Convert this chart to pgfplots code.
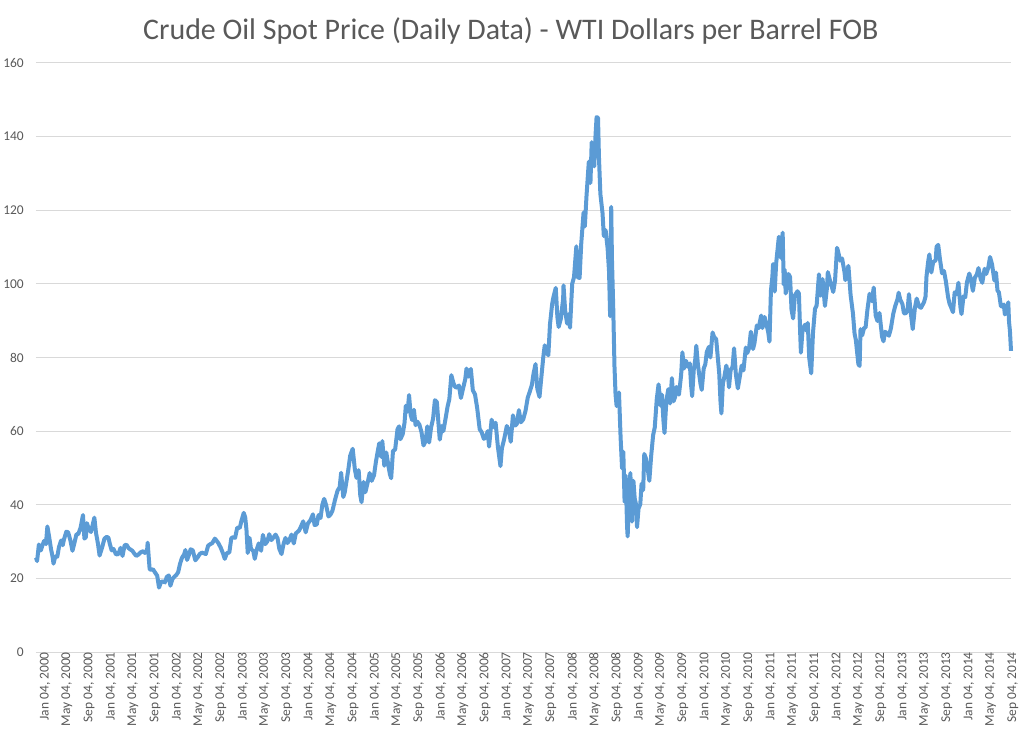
\documentclass[border=0pt]{standalone}
\usepackage{fontspec}
\setmainfont{Carlito}
\usepackage{pgfplots}
\pgfplotsset{compat=1.18}
\usepgfplotslibrary{dateplot}
\definecolor{linec}{HTML}{5B9BD5}
\definecolor{gridc}{HTML}{D9D9D9}
\definecolor{txtc}{HTML}{595959}
\pgfplotstableread{
date price
2000-01-04 25.6
2000-01-10 24.7
2000-01-20 29.2
2000-01-31 27.6
2000-02-08 28.9
2000-02-18 30.2
2000-02-28 29.3
2000-03-07 34.1
2000-03-16 31.5
2000-03-27 28.0
2000-04-05 25.8
2000-04-10 24.0
2000-04-20 26.0
2000-05-01 25.9
2000-05-10 28.5
2000-05-22 30.3
2000-05-31 29.0
2000-06-07 30.6
2000-06-20 32.7
2000-06-30 32.5
2000-07-12 30.4
2000-07-24 27.5
2000-08-03 29.5
2000-08-15 32.0
2000-08-25 32.0
2000-09-07 33.8
2000-09-20 37.2
2000-09-28 30.8
2000-10-06 31.2
2000-10-12 35.0
2000-10-24 33.2
2000-11-03 32.6
2000-11-14 34.8
2000-11-22 36.5
2000-12-01 32.4
2000-12-12 29.4
2000-12-21 26.2
2001-01-04 28.4
2001-01-17 30.8
2001-01-30 31.3
2001-02-08 31.0
2001-02-16 29.3
2001-02-26 27.6
2001-03-08 28.0
2001-03-22 26.5
2001-04-04 26.6
2001-04-16 28.3
2001-04-27 26.1
2001-05-08 28.9
2001-05-18 29.2
2001-05-31 28.2
2001-06-08 27.9
2001-06-20 27.5
2001-07-02 26.7
2001-07-12 26.1
2001-07-25 26.5
2001-08-06 27.1
2001-08-20 27.4
2001-08-29 26.9
2001-09-10 27.6
2001-09-13 29.7
2001-09-24 22.5
2001-10-03 22.3
2001-10-12 22.5
2001-10-24 21.6
2001-11-05 20.7
2001-11-15 17.5
2001-11-26 19.0
2001-12-05 19.2
2001-12-18 18.9
2001-12-28 20.4
2002-01-08 20.8
2002-01-17 18.0
2002-01-28 19.8
2002-02-07 20.4
2002-02-20 21.0
2002-03-01 21.7
2002-03-11 23.9
2002-03-22 25.6
2002-04-03 26.5
2002-04-10 27.7
2002-04-19 25.0
2002-04-29 26.3
2002-05-09 27.9
2002-05-21 27.6
2002-06-04 24.9
2002-06-18 25.8
2002-06-28 26.6
2002-07-10 27.0
2002-07-22 26.8
2002-08-01 26.6
2002-08-14 28.9
2002-08-26 29.3
2002-09-06 29.6
2002-09-20 30.8
2002-09-27 30.4
2002-10-09 29.6
2002-10-22 28.4
2002-11-04 26.8
2002-11-14 25.3
2002-11-26 26.9
2002-12-09 27.0
2002-12-20 30.9
2002-12-30 31.2
2003-01-10 31.0
2003-01-22 33.8
2003-02-05 33.7
2003-02-14 35.6
2003-02-27 37.8
2003-03-07 36.6
2003-03-14 33.2
2003-03-21 26.9
2003-03-31 31.0
2003-04-08 28.0
2003-04-21 27.4
2003-04-29 25.3
2003-05-09 27.7
2003-05-21 29.5
2003-06-03 27.5
2003-06-13 31.8
2003-06-26 29.3
2003-07-08 30.1
2003-07-18 32.0
2003-07-30 30.4
2003-08-12 31.2
2003-08-22 31.9
2003-09-02 30.9
2003-09-12 28.0
2003-09-24 26.6
2003-10-06 29.5
2003-10-16 31.0
2003-10-27 29.6
2003-11-06 30.3
2003-11-18 31.9
2003-12-01 29.5
2003-12-12 32.2
2003-12-30 33.0
2004-01-09 34.0
2004-01-22 35.5
2004-02-05 32.5
2004-02-17 34.9
2004-03-02 35.8
2004-03-16 37.4
2004-03-25 34.5
2004-04-06 34.6
2004-04-16 37.2
2004-04-27 36.4
2004-05-07 40.0
2004-05-17 41.6
2004-05-28 39.9
2004-06-10 36.8
2004-06-22 37.4
2004-07-02 38.4
2004-07-16 41.3
2004-07-30 43.8
2004-08-11 44.8
2004-08-19 48.7
2004-08-31 42.1
2004-09-08 43.4
2004-09-20 47.1
2004-09-28 49.6
2004-10-08 53.3
2004-10-22 55.2
2004-11-03 49.6
2004-11-12 47.3
2004-11-24 49.4
2004-12-03 42.5
2004-12-10 40.7
2004-12-21 46.2
2004-12-31 43.4
2005-01-10 45.4
2005-01-24 48.6
2005-02-04 46.5
2005-02-17 48.0
2005-02-28 51.8
2005-03-10 54.6
2005-03-18 56.7
2005-03-29 53.0
2005-04-04 57.3
2005-04-15 50.6
2005-04-26 54.2
2005-05-06 51.1
2005-05-16 48.3
2005-05-23 47.2
2005-06-02 54.6
2005-06-14 55.0
2005-06-27 60.5
2005-07-06 61.3
2005-07-13 57.8
2005-07-26 59.2
2005-08-05 62.3
2005-08-12 66.9
2005-08-22 65.3
2005-08-30 69.8
2005-09-08 64.4
2005-09-16 63.0
2005-09-26 65.8
2005-10-05 61.6
2005-10-14 62.6
2005-10-26 61.8
2005-11-07 59.7
2005-11-18 56.1
2005-11-30 57.3
2005-12-09 61.3
2005-12-19 56.9
2005-12-30 61.0
2006-01-10 63.4
2006-01-20 68.4
2006-01-31 67.9
2006-02-08 62.6
2006-02-16 57.7
2006-02-28 61.4
2006-03-08 60.0
2006-03-20 63.4
2006-03-31 66.6
2006-04-10 68.7
2006-04-21 75.2
2006-05-03 73.0
2006-05-12 72.0
2006-05-23 71.8
2006-06-02 72.4
2006-06-13 69.0
2006-06-26 71.8
2006-07-07 74.1
2006-07-14 77.0
2006-07-24 74.8
2006-08-07 76.9
2006-08-18 71.1
2006-08-30 70.0
2006-09-11 66.3
2006-09-25 60.5
2006-10-06 59.7
2006-10-18 57.9
2006-10-30 58.4
2006-11-08 60.0
2006-11-16 55.8
2006-11-30 63.1
2006-12-12 61.1
2006-12-22 62.3
2007-01-04 55.6
2007-01-18 50.5
2007-01-26 55.4
2007-02-07 57.7
2007-02-22 61.4
2007-03-06 60.1
2007-03-16 57.1
2007-03-28 64.3
2007-04-09 61.5
2007-04-19 62.0
2007-04-30 65.7
2007-05-11 62.4
2007-05-24 63.2
2007-06-06 65.6
2007-06-18 69.1
2007-06-29 70.7
2007-07-11 72.6
2007-07-20 75.6
2007-07-31 78.2
2007-08-10 71.5
2007-08-22 69.3
2007-08-31 74.0
2007-09-12 80.1
2007-09-20 83.3
2007-09-28 81.7
2007-10-10 80.6
2007-10-19 89.0
2007-10-31 94.5
2007-11-07 96.4
2007-11-20 98.9
2007-11-29 91.0
2007-12-06 88.3
2007-12-18 90.5
2007-12-31 96.0
2008-01-02 99.6
2008-01-11 92.7
2008-01-22 89.2
2008-01-31 91.8
2008-02-07 88.1
2008-02-19 100.0
2008-02-29 101.8
2008-03-13 110.2
2008-03-20 101.8
2008-03-31 101.6
2008-04-09 110.9
2008-04-22 119.4
2008-04-29 115.6
2008-05-08 123.7
2008-05-21 133.2
2008-05-30 127.4
2008-06-06 138.5
2008-06-13 134.9
2008-06-20 131.9
2008-06-27 140.2
2008-07-03 145.3
2008-07-11 145.1
2008-07-16 134.6
2008-07-24 124.4
2008-08-05 119.2
2008-08-12 113.0
2008-08-22 114.6
2008-09-02 109.7
2008-09-10 103.3
2008-09-16 91.2
2008-09-22 120.9
2008-09-26 106.9
2008-10-03 93.9
2008-10-10 77.7
2008-10-16 69.9
2008-10-22 66.8
2008-10-31 67.8
2008-11-04 70.5
2008-11-13 58.2
2008-11-21 49.9
2008-11-28 54.4
2008-12-05 40.8
2008-12-11 47.9
2008-12-19 33.9
2008-12-22 31.4
2008-12-31 44.6
2009-01-06 48.6
2009-01-15 35.4
2009-01-23 46.5
2009-01-30 41.7
2009-02-06 40.2
2009-02-12 33.9
2009-02-20 38.9
2009-03-02 40.2
2009-03-09 45.7
2009-03-18 44.0
2009-03-24 53.8
2009-04-02 52.6
2009-04-13 49.4
2009-04-21 46.5
2009-05-01 53.2
2009-05-12 58.9
2009-05-21 61.0
2009-06-01 68.6
2009-06-11 72.7
2009-06-23 66.9
2009-06-30 69.9
2009-07-08 62.9
2009-07-14 59.5
2009-07-24 68.1
2009-08-04 71.4
2009-08-14 67.5
2009-08-24 74.4
2009-09-02 68.1
2009-09-11 69.3
2009-09-18 72.0
2009-09-30 70.6
2009-10-02 69.9
2009-10-14 75.2
2009-10-21 81.4
2009-10-30 77.0
2009-11-10 79.1
2009-11-20 77.5
2009-12-01 78.4
2009-12-08 72.6
2009-12-14 69.5
2009-12-23 76.7
2009-12-31 79.4
2010-01-06 83.2
2010-01-15 78.0
2010-01-29 72.9
2010-02-05 71.2
2010-02-16 77.0
2010-02-25 78.2
2010-03-05 81.5
2010-03-17 82.9
2010-03-25 80.0
2010-04-06 86.8
2010-04-15 85.5
2010-04-26 85.0
2010-05-05 80.0
2010-05-13 75.6
2010-05-20 68.0
2010-05-25 64.8
2010-06-02 72.9
2010-06-09 74.4
2010-06-21 77.8
2010-06-29 75.9
2010-07-06 71.9
2010-07-15 76.6
2010-07-26 77.5
2010-08-03 82.5
2010-08-13 75.4
2010-08-24 71.6
2010-09-03 74.6
2010-09-14 77.8
2010-09-24 76.5
2010-10-07 82.7
2010-10-15 81.2
2010-10-25 82.5
2010-11-04 87.0
2010-11-16 82.3
2010-11-24 83.9
2010-12-07 88.7
2010-12-17 88.0
2010-12-31 91.4
2011-01-07 88.0
2011-01-19 91.0
2011-01-28 89.3
2011-02-08 86.9
2011-02-15 84.3
2011-02-23 98.1
2011-03-03 101.9
2011-03-07 105.4
2011-03-16 97.9
2011-03-24 105.6
2011-04-08 112.8
2011-04-18 107.1
2011-04-29 113.9
2011-05-05 99.8
2011-05-10 103.9
2011-05-16 97.4
2011-05-31 102.7
2011-06-09 101.9
2011-06-17 93.0
2011-06-26 90.6
2011-07-06 96.9
2011-07-20 98.0
2011-07-28 97.4
2011-08-04 86.6
2011-08-08 81.3
2011-08-17 87.6
2011-08-30 88.9
2011-09-09 87.2
2011-09-15 89.4
2011-09-23 79.9
2011-10-04 75.7
2011-10-14 86.8
2011-10-25 93.2
2011-11-03 94.1
2011-11-16 102.6
2011-11-25 96.8
2011-12-06 101.3
2011-12-19 94.0
2011-12-30 98.8
2012-01-04 103.2
2012-01-17 100.7
2012-01-25 99.4
2012-02-03 97.8
2012-02-13 100.9
2012-02-24 109.8
2012-03-01 108.8
2012-03-12 106.3
2012-03-23 106.9
2012-04-05 103.3
2012-04-10 101.0
2012-04-27 104.9
2012-05-09 97.0
2012-05-22 92.0
2012-05-31 86.5
2012-06-07 84.8
2012-06-21 78.2
2012-06-28 77.7
2012-07-03 87.7
2012-07-12 86.0
2012-07-23 88.1
2012-07-31 88.1
2012-08-10 92.9
2012-08-22 97.3
2012-09-04 95.3
2012-09-14 99.0
2012-09-25 91.4
2012-10-05 89.9
2012-10-16 92.1
2012-10-30 85.7
2012-11-07 84.4
2012-11-16 87.0
2012-11-28 86.5
2012-12-07 85.9
2012-12-18 87.9
2012-12-31 91.8
2013-01-10 93.8
2013-01-24 95.9
2013-01-30 97.6
2013-02-08 95.7
2013-02-20 94.5
2013-02-28 92.1
2013-03-08 91.9
2013-03-20 92.7
2013-03-28 97.2
2013-04-05 93.0
2013-04-18 87.7
2013-04-30 93.5
2013-05-10 96.0
2013-05-24 93.8
2013-06-03 93.5
2013-06-20 95.1
2013-06-28 96.6
2013-07-03 101.9
2013-07-12 105.9
2013-07-19 108.0
2013-07-30 103.1
2013-08-09 105.9
2013-08-23 106.4
2013-08-28 110.1
2013-09-06 110.6
2013-09-16 106.6
2013-09-27 102.9
2013-10-08 103.5
2013-10-18 100.8
2013-10-31 96.3
2013-11-08 94.6
2013-11-15 93.8
2013-11-27 92.3
2013-12-06 97.7
2013-12-17 97.2
2013-12-27 100.3
2014-01-07 93.7
2014-01-13 91.8
2014-01-24 96.6
2014-02-03 96.4
2014-02-12 100.4
2014-02-25 102.8
2014-03-05 101.5
2014-03-17 98.1
2014-03-28 101.7
2014-04-08 102.6
2014-04-17 104.3
2014-04-29 101.3
2014-05-08 100.3
2014-05-21 104.1
2014-05-30 102.7
2014-06-10 104.4
2014-06-20 107.3
2014-07-01 105.3
2014-07-14 100.9
2014-07-23 103.1
2014-07-31 98.2
2014-08-08 97.7
2014-08-19 93.9
2014-08-26 93.9
2014-09-04 94.4
2014-09-10 91.7
2014-09-19 92.4
2014-09-29 95.0
2014-10-03 89.7
2014-10-08 87.3
2014-10-14 81.8
}\oil
\begin{document}
\begin{tikzpicture}
\begin{axis}[
  date coordinates in=x,
  date ZERO=2000-01-01,
  scale only axis,
  width=975bp, height=589bp,
  xmin=2000-01-04, xmax=2014-10-14,
  ymin=0, ymax=160,
  ytick={0,20,...,160},
  xtick={2000-01-04,2000-05-04,2000-09-04,2001-01-04,2001-05-04,2001-09-04,2002-01-04,2002-05-04,2002-09-04,2003-01-04,2003-05-04,2003-09-04,2004-01-04,2004-05-04,2004-09-04,2005-01-04,2005-05-04,2005-09-04,2006-01-04,2006-05-04,2006-09-04,2007-01-04,2007-05-04,2007-09-04,2008-01-04,2008-05-04,2008-09-04,2009-01-04,2009-05-04,2009-09-04,2010-01-04,2010-05-04,2010-09-04,2011-01-04,2011-05-04,2011-09-04,2012-01-04,2012-05-04,2012-09-04,2013-01-04,2013-05-04,2013-09-04,2014-01-04,2014-05-04,2014-09-04},
  xticklabels={{Jan 04, 2000},{May 04, 2000},{Sep 04, 2000},{Jan 04, 2001},{May 04, 2001},{Sep 04, 2001},{Jan 04, 2002},{May 04, 2002},{Sep 04, 2002},{Jan 04, 2003},{May 04, 2003},{Sep 04, 2003},{Jan 04, 2004},{May 04, 2004},{Sep 04, 2004},{Jan 04, 2005},{May 04, 2005},{Sep 04, 2005},{Jan 04, 2006},{May 04, 2006},{Sep 04, 2006},{Jan 04, 2007},{May 04, 2007},{Sep 04, 2007},{Jan 04, 2008},{May 04, 2008},{Sep 04, 2008},{Jan 04, 2009},{May 04, 2009},{Sep 04, 2009},{Jan 04, 2010},{May 04, 2010},{Sep 04, 2010},{Jan 04, 2011},{May 04, 2011},{Sep 04, 2011},{Jan 04, 2012},{May 04, 2012},{Sep 04, 2012},{Jan 04, 2013},{May 04, 2013},{Sep 04, 2013},{Jan 04, 2014},{May 04, 2014},{Sep 04, 2014}},
  axis line style={draw=none},
  ymajorgrids,
  grid style={gridc, line width=1bp},
  major tick length=0pt,
  tick style={draw=none},
  /pgf/number format/assume math mode=true,
  ticklabel style={font=\fontsize{13.5}{15}\selectfont, text=txtc},
  xticklabel style={rotate=90, anchor=east, inner sep=0pt, yshift=-9bp},
  yticklabel style={anchor=east, inner sep=0pt, xshift=-12bp},
  clip=false,
]
\addplot[linec, line width=4bp, line join=round] table[x=date, y=price] {\oil};
\node[font=\fontsize{30}{34}\selectfont, text=txtc] at (rel axis cs:0.487,1) [yshift=32bp] {Crude Oil Spot Price (Daily Data) - WTI Dollars per Barrel FOB};
\end{axis}
\path[use as bounding box] (-36bp,-90bp) rectangle (988bp,652bp);
\end{tikzpicture}
\end{document}
